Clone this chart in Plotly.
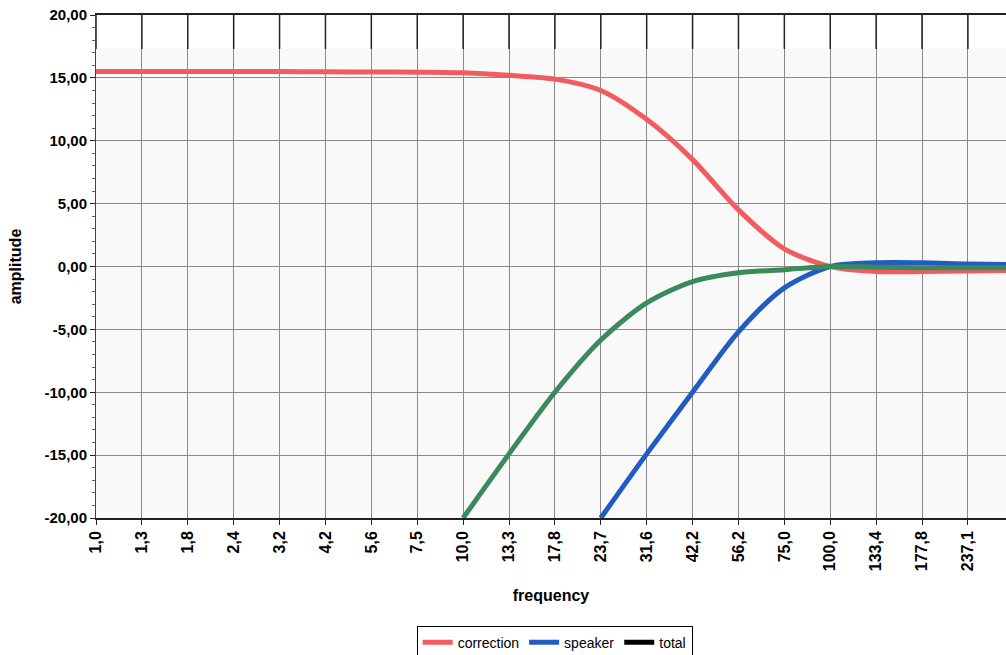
import plotly.graph_objects as go

# ---- data ----
freq_labels = ["1,0", "1,3", "1,8", "2,4", "3,2", "4,2", "5,6", "7,5", "10,0", "13,3",
               "17,8", "23,7", "31,6", "42,2", "56,2", "75,0", "100,0", "133,4",
               "177,8", "237,1", "316,2"]
correction = [15.5, 15.5, 15.5, 15.5, 15.5, 15.48, 15.47, 15.45, 15.4, 15.2,
              14.9, 14.0, 11.7, 8.5, 4.5, 1.4, 0.0, -0.4, -0.4, -0.35, -0.3]
speaker = [None, None, None, None, None, None, None, None, None, None,
           None, -20.0, -14.9, -10.0, -5.2, -1.7, 0.0, 0.3, 0.3, 0.2, 0.15]
total = [None, None, None, None, None, None, None, None, -20.0, -14.9,
         -10.0, -5.85, -2.9, -1.2, -0.5, -0.25, 0.0, -0.05, -0.1, -0.1, -0.1]
y_tickvals = [-20, -15, -10, -5, 0, 5, 10, 15, 20]
y_ticktext = ["-20,00", "-15,00", "-10,00", "-5,00", "0,00", "5,00", "10,00", "15,00", "20,00"]

RED = "rgb(242,92,96)"
BLUE = "rgb(32,92,196)"
GREEN = "rgb(58,138,92)"

fig = go.Figure()
fig.add_trace(go.Scatter(x=freq_labels, y=correction, name="correction", mode="lines",
                         line=dict(color=RED, width=5, shape="spline", smoothing=0.8)))
fig.add_trace(go.Scatter(x=freq_labels, y=speaker, name="speaker", mode="lines",
                         line=dict(color=BLUE, width=5, shape="spline", smoothing=0.8)))
fig.add_trace(go.Scatter(x=freq_labels, y=total, name="total", mode="lines", showlegend=False,
                         line=dict(color=GREEN, width=5, shape="spline", smoothing=0.8)))
# legend entry for total (drawn black in the reference legend)
fig.add_trace(go.Scatter(x=[None], y=[None], name="total", mode="lines",
                         line=dict(color="black", width=5)))

# white band at the top of the plot area with darker grid segments (scan look)
shapes = [dict(type="rect", xref="paper", x0=0, x1=1, yref="y", y0=17.3, y1=20,
               fillcolor="white", line=dict(width=0), layer="below")]
for lab in freq_labels:
    shapes.append(dict(type="line", xref="x", x0=lab, x1=lab, yref="y", y0=17.3, y1=20,
                       line=dict(color="#222", width=1.5), layer="between"))

fig.update_layout(
    width=1006, height=655,
    margin=dict(l=96, r=0, t=15, b=137, autoexpand=False),
    paper_bgcolor="white",
    plot_bgcolor="rgb(249,249,249)",
    font=dict(family="Liberation Sans, Arial, sans-serif", color="black"),
    shapes=shapes,
    showlegend=True,
    legend=dict(orientation="h", x=0.504, xanchor="center", y=-0.214, yanchor="top",
                bgcolor="white", bordercolor="black", borderwidth=1,
                font=dict(size=14, color="black"), itemwidth=30,
                tracegroupgap=0),
)
fig.update_xaxes(
    type="category", range=[0, 19.83], automargin=False,
    showgrid=True, gridcolor="#8a8a8a", gridwidth=1,
    showline=True, linecolor="#222", linewidth=1.5, mirror=True,
    ticks="outside", ticklen=5, tickcolor="#222",
    tickangle=-90, tickfont=dict(size=16, weight="bold"),
    title=dict(text="frequency", font=dict(size=16, weight="bold"), standoff=20),
    zeroline=False,
)
fig.update_yaxes(
    range=[-20, 20], tickvals=y_tickvals, ticktext=y_ticktext, automargin=False,
    showgrid=True, gridcolor="#8a8a8a", gridwidth=1,
    showline=True, linecolor="#444", linewidth=1,
    ticks="outside", ticklen=5, tickcolor="#222",
    minor=dict(dtick=1, ticks="outside", ticklen=3, tickcolor="#666", showgrid=False),
    tickfont=dict(size=15, weight="bold"),
    title=dict(text="amplitude", font=dict(size=16, weight="bold"), standoff=18),
    zeroline=False,
)

fig.write_html("out.html", config={"displayModeBar": False},
               post_script="document.body.style.margin='0';document.body.style.overflow='hidden';")
